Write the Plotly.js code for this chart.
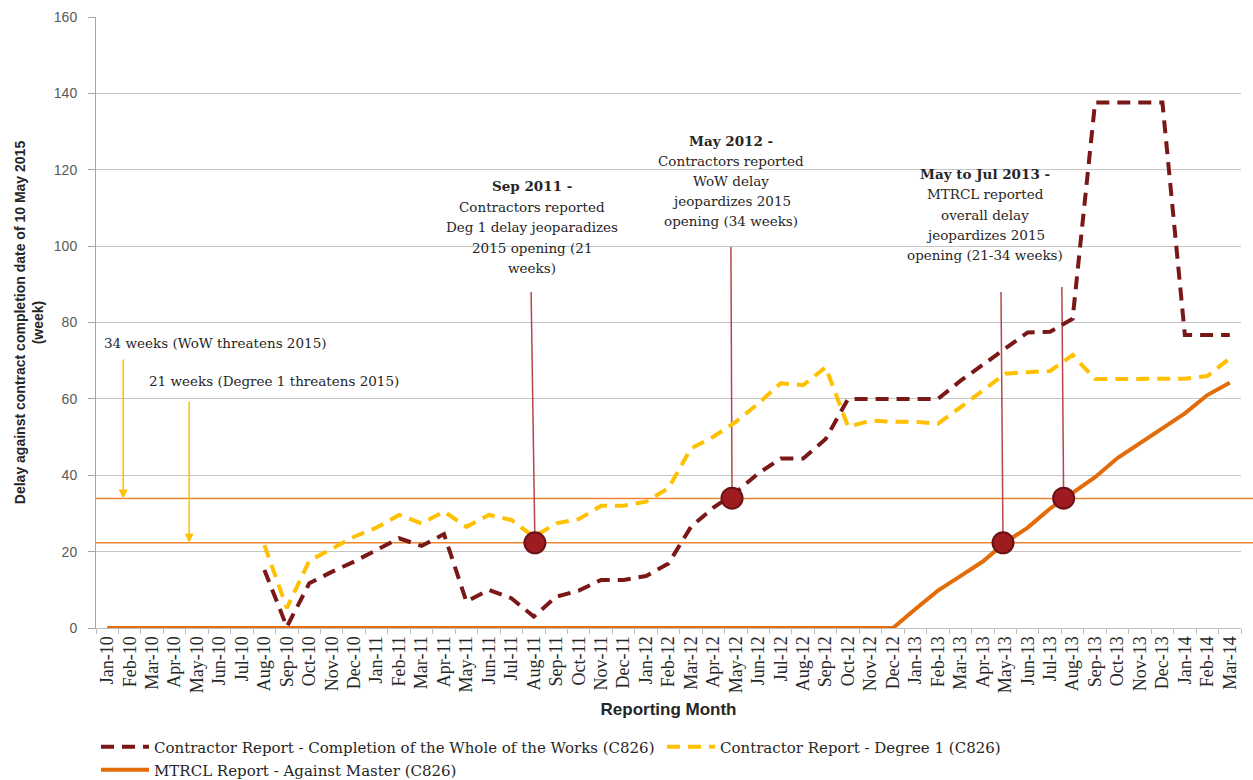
<!DOCTYPE html>
<html>
<head>
<meta charset="utf-8">
<script src="https://cdn.plot.ly/plotly-3.0.1.min.js"></script>
<style>html,body{margin:0;padding:0;background:#fff;}#chart{width:1253px;height:780px;}</style>
</head>
<body>
<div id="chart"></div>
<script>
// ---- data ----
const months = ['Jan-10','Feb-10','Mar-10','Apr-10','May-10','Jun-10','Jul-10','Aug-10','Sep-10','Oct-10','Nov-10','Dec-10',
  'Jan-11','Feb-11','Mar-11','Apr-11','May-11','Jun-11','Jul-11','Aug-11','Sep-11','Oct-11','Nov-11','Dec-11',
  'Jan-12','Feb-12','Mar-12','Apr-12','May-12','Jun-12','Jul-12','Aug-12','Sep-12','Oct-12','Nov-12','Dec-12',
  'Jan-13','Feb-13','Mar-13','Apr-13','May-13','Jun-13','Jul-13','Aug-13','Sep-13','Oct-13','Nov-13','Dec-13',
  'Jan-14','Feb-14','Mar-14'];

const wholeOfWorks = [null,null,null,null,null,null,null,15.2,0.3,11.7,14.7,17.4,
  20.4,23.5,21.5,24.6,6.9,10,7.8,3,8.2,9.8,12.6,12.6,
  13.6,16.9,26.5,31.5,35.5,40.5,44.4,44.4,49.5,60,60,60,
  60,60,64.7,68.9,73,77.4,77.6,81,137.6,137.6,137.6,137.6,
  76.7,76.7,76.7];

const degree1 = [null,null,null,null,null,null,null,21.7,5.2,17.6,20.9,23.9,
  26.3,29.6,27.4,30.5,26.5,29.6,28.3,23.9,27.4,28.5,32,32,
  33.1,36.6,47,50.1,54,58.8,64.1,63.6,68.3,52.7,54.3,54,
  54,53.5,57.8,62.2,66.6,67,67.3,71.5,65.2,65.2,65.2,65.2,
  65.3,66,70.6];

const mtrcl = [0,0,0,0,0,0,0,0,0,0,0,0,
  0,0,0,0,0,0,0,0,0,0,0,0,
  0,0,0,0,0,0,0,0,0,0,0,0,
  5,9.8,13.6,17.4,22.4,26.3,31.3,35.5,39.5,44.5,48.4,52.3,
  56.2,61,64.2];

const seriesNames = ['Contractor Report - Completion of the Whole of the Works (C826)',
  'Contractor Report - Degree 1 (C826)',
  'MTRCL Report - Against Master (C826)'];

// thresholds (weeks) as drawn
const thresholdWoW = 33.9;
const thresholdDeg1 = 22.3;

// milestone markers (month position index, delay)
const milestoneX = [19.05, 27.83, 39.9, 42.6];
const milestoneY = [22.3, 34, 22.3, 34];
const calloutTopY = [88, 99.8, 88, 89.3];
const calloutTopX = [18.88, 27.78, 39.81, 42.52];

const noteSep2011 = ['<b>Sep 2011 -</b>','Contractors reported','Deg 1 delay jeoparadizes','2015 opening (21','weeks)'];
const noteMay2012 = ['<b>May 2012 -</b>','Contractors reported','WoW delay','jeopardizes 2015','opening (34 weeks)'];
const noteMay2013 = ['<b>May to Jul 2013 -</b>','MTRCL reported','overall delay','jeopardizes 2015','opening (21-34 weeks)'];
const label34 = '34 weeks (WoW threatens 2015)';
const label21 = '21 weeks (Degree 1 threatens 2015)';

// ---- layout helpers ----
const W = 1253, H = 780;
const M = {l: 96, r: 12, t: 17, b: 152, autoexpand: false};
const PW = W - M.l - M.r, PH = H - M.t - M.b;
const px = x => (x - M.l) / PW;
const py = y => (M.t + PH - y) / PH;
const idx = months.map((m, i) => i);
const bounds = months.map((m, i) => i - 0.5).concat([months.length - 0.5]);

const serif = 'DejaVu Serif, serif';
const txt = '#262626';
const noteSize = 13.5;

const traces = [
  {x: idx, y: wholeOfWorks, name: seriesNames[0], type: 'scatter', mode: 'lines',
   line: {color: '#7A1717', width: 4, dash: '13px,8px'}, legend: 'legend', connectgaps: false},
  {x: idx, y: degree1, name: seriesNames[1], type: 'scatter', mode: 'lines',
   line: {color: '#FFC000', width: 4, dash: '13px,8px'}, legend: 'legend2', connectgaps: false},
  {x: idx, y: mtrcl, name: seriesNames[2], type: 'scatter', mode: 'lines',
   line: {color: '#E36C09', width: 4}, legend: 'legend3'},
  {x: milestoneX, y: milestoneY, type: 'scatter', mode: 'markers', showlegend: false, cliponaxis: false,
   marker: {size: 21, color: '#9E1C20', line: {color: '#6B1214', width: 2}}}
];

const shapes = [];
// threshold lines
[thresholdWoW, thresholdDeg1].forEach(v => shapes.push({type: 'line', xref: 'paper', yref: 'y', x0: 0, x1: (W - M.l) / PW,
  y0: v, y1: v, line: {color: '#EE8533', width: 1.5}, layer: 'between'}));
// white boxes behind notes
const boxes = [[447, 176, 617, 281], [657, 128, 807, 248], [902, 160, 1067, 266], [147, 366, 413, 401]];
boxes.forEach(b => shapes.push({type: 'rect', xref: 'paper', yref: 'paper', x0: px(b[0]), x1: px(b[2]), y0: py(b[3]), y1: py(b[1]),
  fillcolor: '#ffffff', line: {width: 0}, layer: 'between'}));
// callout lines
milestoneX.forEach((mx, i) => shapes.push({type: 'line', xref: 'x', yref: 'y', x0: calloutTopX[i], y0: calloutTopY[i], x1: mx, y1: milestoneY[i],
  line: {color: '#B6474B', width: 1.5}, layer: 'between'}));

const annotations = [];
function note(lines, cx, y0, step) {
  lines.forEach((t, i) => annotations.push({text: t, xref: 'paper', yref: 'paper', x: px(cx), y: py(y0 + i * step),
    xanchor: 'center', yanchor: 'middle', showarrow: false, font: {family: serif, size: noteSize, color: txt}}));
}
note(noteSep2011, 532, 186, 20.5);
note(noteMay2012, 731, 141, 20);
note(noteMay2013, 985, 174, 20.3);
annotations.push({text: label34, xref: 'paper', yref: 'paper', x: px(102), y: py(343), xanchor: 'left', yanchor: 'middle',
  showarrow: false, font: {family: serif, size: noteSize, color: txt}});
annotations.push({text: label21, xref: 'paper', yref: 'paper', x: px(147), y: py(381), xanchor: 'left', yanchor: 'middle',
  showarrow: false, font: {family: serif, size: noteSize, color: txt}});
// arrows from labels to threshold lines
annotations.push({text: '', xref: 'x', yref: 'y', axref: 'x', ayref: 'y', x: 0.71, y: thresholdWoW, ax: 0.71, ay: 70.7,
  showarrow: true, arrowhead: 2, arrowsize: 1.2, arrowwidth: 1.5, arrowcolor: '#FFC000'});
annotations.push({text: '', xref: 'x', yref: 'y', axref: 'x', ayref: 'y', x: 3.65, y: thresholdDeg1, ax: 3.65, ay: 59.7,
  showarrow: true, arrowhead: 2, arrowsize: 1.2, arrowwidth: 1.5, arrowcolor: '#FFC000'});

const legendBase = {orientation: 'h', xanchor: 'left', yanchor: 'middle', bgcolor: 'rgba(0,0,0,0)', borderwidth: 0,
  itemwidth: 48, font: {family: serif, size: 15, color: txt}};

const layout = {
  width: W, height: H, margin: M, paper_bgcolor: '#fff', plot_bgcolor: '#fff',
  xaxis: {range: [-0.5, months.length - 0.5], tickmode: 'array', tickvals: idx, ticktext: months, tickangle: -90,
    ticks: '', showgrid: false, zeroline: false, showline: true, linecolor: '#BFBFBF', linewidth: 1, automargin: false,
    minor: {tickmode: 'array', tickvals: bounds, ticks: 'outside', ticklen: 5, tickcolor: '#BFBFBF', showgrid: false},
    tickfont: {family: 'Liberation Serif, serif', size: 18, color: txt},
    title: {text: '<b>Reporting Month</b>', font: {family: 'Liberation Sans, Arial', size: 17, color: txt}, standoff: 10}},
  yaxis: {range: [0, 160], dtick: 20, tick0: 0, showgrid: true, gridcolor: '#C6C6C6', gridwidth: 1, zeroline: false,
    showline: true, linecolor: '#A6A6A6', ticks: 'outside', ticklen: 7, tickcolor: '#A6A6A6', automargin: false,
    ticklabelstandoff: 8,
    tickfont: {family: 'Liberation Sans, Arial', size: 14, color: '#595959'},
    title: {text: '<b>Delay against contract completion date of 10 May 2015</b><br><b>(week)</b>',
      font: {family: 'Liberation Sans, Arial', size: 14, color: txt}, standoff: 6}},
  legend: Object.assign({}, legendBase, {x: px(96), y: py(747)}),
  legend2: Object.assign({}, legendBase, {x: px(662), y: py(747)}),
  legend3: Object.assign({}, legendBase, {x: px(96), y: py(770)}),
  shapes: shapes,
  annotations: annotations,
  showlegend: true
};

Plotly.newPlot('chart', traces, layout, {displayModeBar: false, responsive: false});
</script>
</body>
</html>
